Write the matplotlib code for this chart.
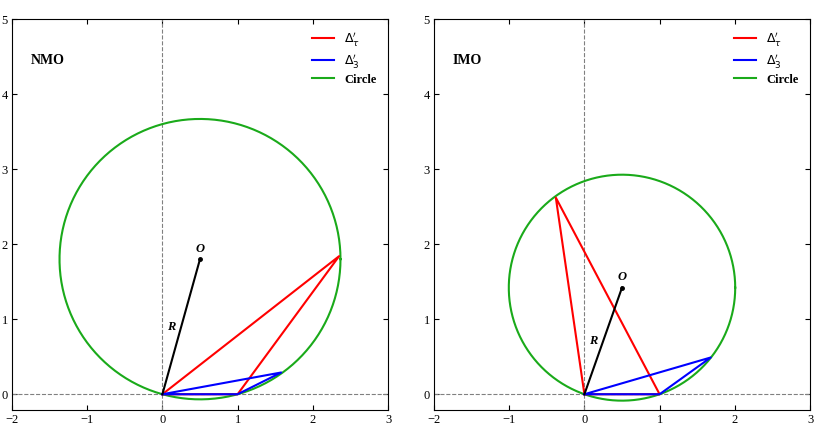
import numpy as np
import matplotlib
matplotlib.use("Agg")
import matplotlib.pyplot as plt

plt.rcParams["font.family"] = "Liberation Serif"
panels = ["NMO", "IMO"]
centers = [(0.5, 1.8), (0.5, 1.42)]
red_apex = [(2.35, 1.84), (-0.38, 2.62)]
blue_apex = [(1.58, 0.29), (1.68, 0.49)]
base_pt = (1.0, 0.0)
xticks = [-2, -1, 0, 1, 2, 3]
yticks = [0, 1, 2, 3, 4, 5]

fig = plt.figure(figsize=(8.14, 4.30), dpi=100)
lefts = [12/814, 434/814]
for i, name in enumerate(panels):
    ax = fig.add_axes([lefts[i], 20/430, 376/814, 391/430])
    ax.set_xlim(-2, 3); ax.set_ylim(-0.21, 5)
    ax.axvline(0, color="gray", ls="--", lw=0.8)
    ax.axhline(0, color="gray", ls="--", lw=0.8)
    cx, cy = centers[i]
    R = np.hypot(cx, cy)
    t = np.linspace(0, 2*np.pi, 400)
    ax.plot(cx + R*np.cos(t), cy + R*np.sin(t), color="#1aaa1a", lw=1.5, label="Circle")
    rx, ry = red_apex[i]; bx, by = blue_apex[i]
    ax.plot([0, rx, base_pt[0], 0], [0, ry, base_pt[1], 0], color="red", lw=1.5, label=r"$\Delta^{\prime}_{\tau}$")
    ax.plot([0, bx, base_pt[0], 0], [0, by, base_pt[1], 0], color="blue", lw=1.5, label=r"$\Delta^{\prime}_{3}$")
    ax.plot([0, cx], [0, cy], color="black", lw=1.5)
    ax.plot([cx], [cy], "ko", ms=2.5)
    ax.text(cx, cy + 0.06, "O", fontweight="bold", fontstyle="italic", fontsize=9, ha="center", va="bottom")
    ax.text(cx*0.5 - 0.08, cy*0.5, "R", fontweight="bold", fontstyle="italic", fontsize=9, ha="right", va="center")
    ax.text(-1.75, 4.4, name, fontweight="bold", fontsize=10)
    h, l = ax.get_legend_handles_labels()
    ax.legend([h[1], h[2], h[0]], [l[1], l[2], l[0]], loc="upper right", frameon=False,
              handlelength=1.8, labelspacing=0.3, prop={"weight": "bold", "size": 9})
    ax.set_xticks(xticks); ax.set_yticks(yticks)
    ax.tick_params(direction="in", labelsize=9, top=True, right=True, pad=3)
fig.savefig("out.png", dpi=100)
